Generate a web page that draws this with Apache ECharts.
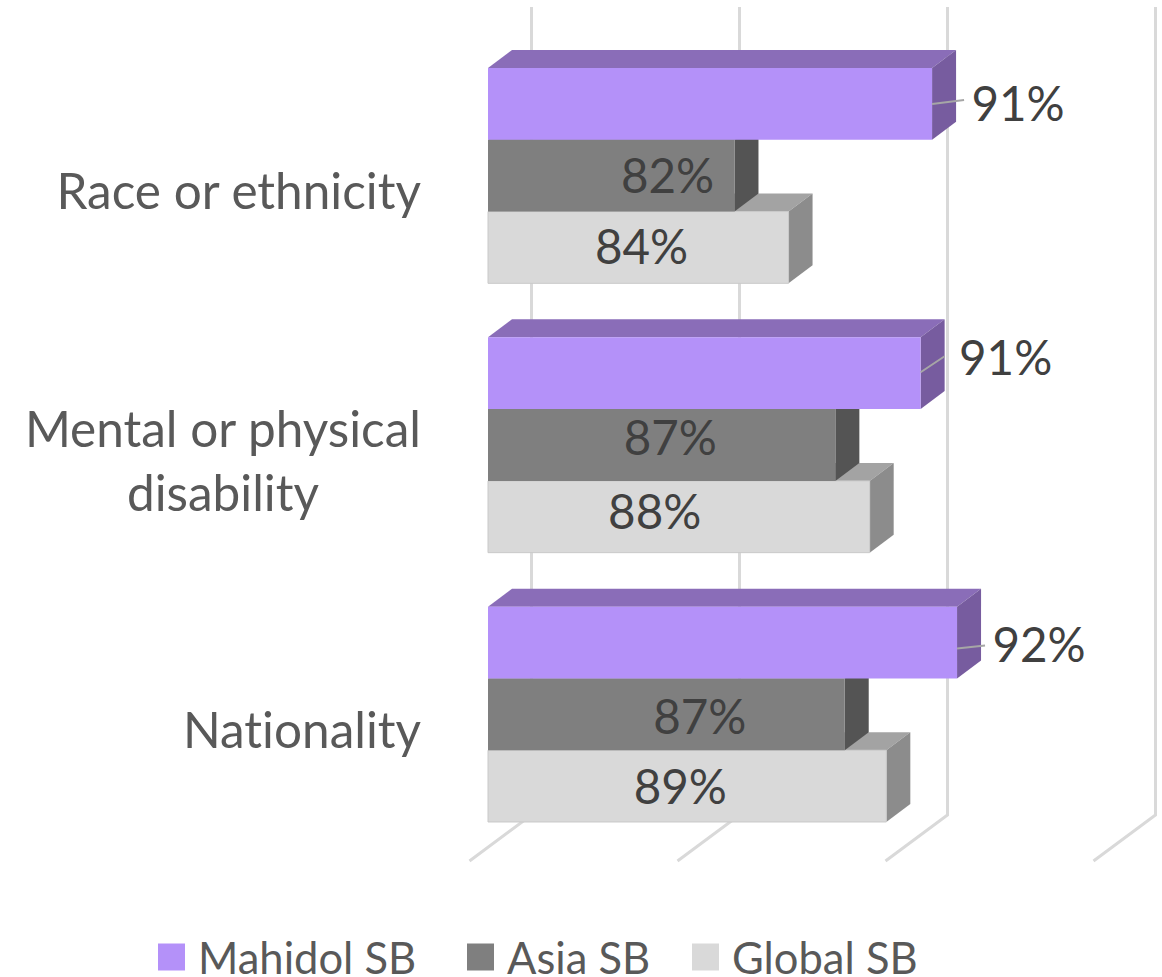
<!DOCTYPE html>
<html>
<head>
<meta charset="utf-8">
<style>html,body{margin:0;padding:0;background:#fff}#c{width:1162px;height:977px}#c text{font-variant-ligatures:none}</style>
<script src="https://cdn.jsdelivr.net/npm/echarts@6/dist/echarts.min.js"></script>
</head>
<body>
<div id="c"></div>
<script>
// Data
const categories = ['Race or ethnicity', 'Mental or physical\ndisability', 'Nationality'];
const seriesNames = ['Mahidol SB', 'Asia SB', 'Global SB'];
const mahidol = [91.35, 90.8, 92.55];
const asia = [81.85, 86.7, 87.15];
const globalSB = [84.45, 88.35, 89.15];
const mahidolLabels = ['91%', '91%', '92%'];
const asiaLabels = ['82%', '87%', '87%'];
const globalLabels = ['84%', '88%', '89%'];
const axisTicks = [70, 80, 90, 100];

// Layout of the manually placed labels, relative to bar end and bar centre
const mahidolLabelShift = [[86, -1], [85, -17], [82, 1]];
const asiaLabelShift = [[-67, -1], [-165, -9], [-145, 1]];
const globalLabelShift = [[-147, -2], [-215, -6], [-206, -1]];
const leaderShift = [[0, 0, 32, -4], [0, -1, 24, -17], [0, 6, 28, 3]];
const legendLefts = [158, 467, 692];

const FONT = 'Lato, "Open Sans", sans-serif';
const DX = 24, DY = -18;
const BAR_RATIO = 0.2665;

function barSeries(name, idx, values, labels, shifts, cols, z, leaders) {
  return {
    name, type: 'custom', z,
    coordinateSystem: 'cartesian2d',
    itemStyle: { color: cols.front },
    encode: { x: 0, y: 1 },
    data: values.map((v, i) => [v, i, labels[i]]),
    renderItem(params, api) {
      const i = params.dataIndex;
      const end = api.coord([api.value(0), i]);
      const start = api.coord([70, i]);
      const h = api.size([0, 1])[1] * BAR_RATIO;
      const cy = end[1] + (idx - 1) * h;
      const t = cy - h / 2, b = cy + h / 2, l = start[0], r = end[0];
      const frontStyle = { fill: cols.front };
      if (cols.edge) { frontStyle.stroke = cols.edge; frontStyle.lineWidth = 1; }
      const children = [
        { type: 'polygon', shape: { points: [[l, t], [r, t], [r + DX, t + DY], [l + DX, t + DY]] }, style: { fill: cols.top } },
        { type: 'polygon', shape: { points: [[r, t], [r + DX, t + DY], [r + DX, b + DY], [r, b]] }, style: { fill: cols.side } },
        { type: 'rect', shape: { x: l, y: t, width: r - l, height: b - t }, style: frontStyle }
      ];
      if (leaders) {
        const s = leaders[i];
        children.push({ type: 'line', shape: { x1: r + s[0], y1: cy + s[1], x2: r + s[2], y2: cy + s[3] }, style: { stroke: '#a6a6a6', lineWidth: 2 } });
      }
      children.push({
        type: 'text',
        style: {
          x: r + shifts[i][0], y: cy + shifts[i][1],
          text: labels[i], fill: '#404040',
          font: '47.5px ' + FONT, textAlign: 'center', textVerticalAlign: 'middle'
        }
      });
      return { type: 'group', children };
    }
  };
}

const gridSeries = {
  type: 'custom', z: 1, silent: true,
  coordinateSystem: 'cartesian2d',
  encode: { x: 0 },
  data: axisTicks.map(v => [v, 0]),
  renderItem(params, api) {
    const x = api.coord([api.value(0), 0])[0];
    const g = params.coordSys;
    const wallX = x + 43.5, frontX = x - 18.5;
    const wallTop = g.y - 34, wallBottom = g.y + g.height - 34, floorBottom = g.y + g.height + 12;
    return {
      type: 'polyline',
      shape: { points: [[wallX, wallTop], [wallX, wallBottom], [frontX, floorBottom]] },
      style: { stroke: '#d9d9d9', lineWidth: 3, fill: 'none' }
    };
  }
};

const chart = echarts.init(document.getElementById('c'), null, { renderer: 'svg' });
chart.setOption({
  animation: false,
  backgroundColor: '#fff',
  textStyle: { fontFamily: FONT },
  grid: { left: 488, top: 41, width: 624, height: 808, containLabel: false },
  xAxis: { type: 'value', min: 70, max: 100, interval: 10, show: false },
  yAxis: {
    type: 'category', inverse: true, data: categories,
    axisLine: { show: false }, axisTick: { show: false }, splitLine: { show: false },
    axisLabel: {
      margin: 66.5, align: 'right', verticalAlign: 'middle',
      fontFamily: FONT, fontSize: 49.5, color: '#595959',
      padding: [29, 0, 0, 0], lineHeight: 64,
      formatter: v => v.split('\n').map(s => '{c|' + s + '}').join('\n'),
      rich: { c: { fontFamily: FONT, fontSize: 49.5, color: '#595959', lineHeight: 64, align: 'center' } }
    }
  },
  legend: seriesNames.map((name, i) => ({
    left: legendLefts[i], top: 935, padding: 0, icon: 'rect', itemWidth: 27, itemHeight: 27,
    data: [name],
    selectedMode: false,
    textStyle: { fontFamily: FONT, fontSize: 43.5, lineHeight: 38, color: '#595959', padding: [0, 0, 6, 8] }
  })),
  series: [
    gridSeries,
    barSeries(seriesNames[0], 0, mahidol, mahidolLabels, mahidolLabelShift, { front: '#b491f9', top: '#8a6db8', side: '#775c9f' }, 5, leaderShift),
    barSeries(seriesNames[1], 1, asia, asiaLabels, asiaLabelShift, { front: '#7f7f7f', top: '#606060', side: '#545454' }, 4),
    barSeries(seriesNames[2], 2, globalSB, globalLabels, globalLabelShift, { front: '#d9d9d9', top: '#a3a3a3', side: '#8c8c8c', edge: '#c9c9c9' }, 3)
  ]
});
</script>
</body>
</html>
